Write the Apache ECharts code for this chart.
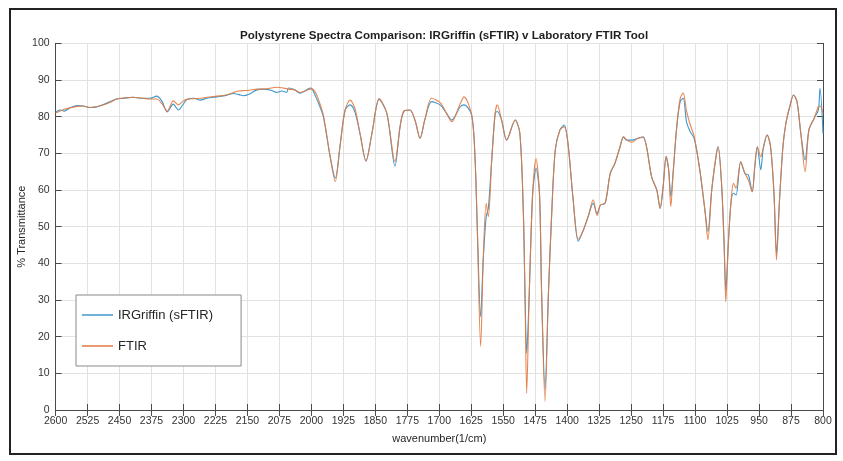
<!DOCTYPE html>
<html>
<head>
<meta charset="utf-8">
<script src="https://cdn.jsdelivr.net/npm/echarts@6/dist/echarts.min.js"></script>
<style>
html,body{margin:0;padding:0;background:#fff;}
#chart{width:843px;height:461px;}
</style>
</head>
<body>
<div id="chart"></div>
<script>
const titleText = 'Polystyrene Spectra Comparison: IRGriffin (sFTIR) v Laboratory FTIR Tool';
const seriesNames = ['IRGriffin (sFTIR)', 'FTIR'];
const xName = 'wavenumber(1/cm)';
const yName = '% Transmittance';

const wavenumbers = [2600,2590,2580,2566,2550,2535,2520,2505,2488,2470,2457,2440,2418,2400,2379,2363,2351,2338,2324,2312,2300,2292,2275,2261,2245,2222,2200,2183,2170,2160,2145,2128,2113,2095,2081,2070,2058,2054,2040,2027,2015,2003,1998,1990,1983,1972,1956,1944,1933,1921,1909,1898,1886,1872,1858,1841,1823,1804,1792,1783,1769,1757,1745,1734,1718,1698,1683,1671,1651,1642,1624,1616,1611,1603,1597,1590,1585,1577,1569,1564,1554,1542,1522,1511,1503,1499,1495,1489,1481,1473,1465,1460,1452,1444,1436,1428,1417,1407,1398,1386,1374,1362,1351,1339,1330,1322,1311,1299,1288,1276,1268,1260,1249,1234,1222,1214,1202,1190,1182,1175,1168,1162,1157,1151,1143,1135,1128,1120,1112,1102,1089,1077,1070,1061,1051,1046,1038,1032,1028,1022,1016,1010,1004,993,983,975,966,960,954,946,940,931,923,915,909,902,894,887,878,869,861,852,842,833,821,811,807,800];

const irgriffin = [81.2,81.8,81.5,82.4,83.0,82.9,82.5,82.6,83.3,84.2,84.8,85.0,85.3,85.0,85.0,85.6,84.3,81.3,83.4,81.8,83.5,84.7,85.0,84.5,85.0,85.4,85.8,86.3,86.0,85.7,86.2,87.3,87.5,87.2,86.6,87.0,86.6,87.8,87.4,86.4,87.0,87.8,87.5,85.5,83.6,80.0,69.1,63.2,71.8,81.8,83.2,81.3,75.4,67.9,75.4,84.7,80.9,66.5,77.3,81.4,81.8,79.0,74.1,79.1,84.1,83.2,80.9,79.1,82.7,83.2,80.4,68.2,50.0,25.4,40.9,52.7,55.0,68.2,80.9,81.4,79.1,73.6,79.1,75.4,54.5,31.9,15.5,31.9,59.0,65.9,59.0,31.9,5.5,32.0,54.5,70.9,76.4,77.7,72.5,57.3,46.0,49.1,52.7,56.4,53.5,55.9,56.4,64.5,67.3,71.8,74.4,73.6,73.6,74.1,74.5,71.8,63.6,60.0,55.0,60.9,69.1,65.5,58.2,65.5,77.3,84.1,85.0,78.5,76.0,74.0,65.5,54.5,48.6,60.0,69.1,71.8,61.8,45.5,32.7,45.5,56.4,59.1,58.6,67.7,64.5,64.1,59.5,66.4,71.8,65.5,71.4,75.0,71.8,59.1,42.7,57.3,71.8,78.2,82.7,85.9,84.1,75.4,68.2,76.4,79.5,81.8,87.7,75.4];

const ftir = [81.0,81.5,82.0,82.4,82.8,82.9,82.5,82.7,83.2,84.0,84.8,85.1,85.3,85.1,84.8,84.8,83.6,81.5,84.3,83.2,84.3,84.7,84.9,85.0,85.3,85.6,85.9,86.6,87.0,87.1,87.2,87.5,87.5,87.8,88.0,87.9,87.6,87.5,87.3,86.6,87.0,87.5,87.5,86.5,84.5,80.4,69.1,62.3,71.8,81.8,84.5,82.3,75.4,67.9,75.4,84.9,80.9,67.7,77.3,81.6,81.8,79.0,74.1,79.1,85.0,83.8,80.9,78.6,83.5,85.4,80.4,68.2,50.0,17.3,40.9,56.4,52.7,68.2,80.9,83.2,79.1,73.6,79.1,75.4,54.5,31.9,4.6,31.9,59.0,68.6,59.0,31.9,2.3,32.0,54.5,70.9,76.4,77.2,72.5,57.3,46.6,49.1,52.7,57.3,53.0,55.9,56.4,64.5,67.3,71.8,74.6,73.6,73.0,74.1,74.3,71.8,63.6,60.0,55.0,60.9,69.1,65.5,55.5,65.5,77.3,85.0,86.4,81.5,78.0,74.5,65.5,54.5,46.4,60.0,69.1,71.8,61.8,45.5,29.5,45.5,56.4,61.8,60.5,67.7,64.5,62.7,59.5,66.4,71.8,69.1,71.4,75.0,71.8,59.1,40.9,57.3,71.8,78.2,82.7,85.9,84.1,75.4,65.0,76.4,79.5,82.7,82.9,80.9];

const colors = ['#3f97cc', '#e2793f'];
const font = 'Liberation Sans';

const chart = echarts.init(document.getElementById('chart'), null, {renderer: 'canvas'});

const axisLineColor = '#4a4a4a';
const gridColor = '#e2e2e2';
const plain = v => String(v);

chart.setOption({
  animation: false,
  backgroundColor: '#ffffff',
  title: {
    text: titleText,
    left: 439, textAlign: 'center',
    top: 25,
    textStyle: {fontFamily: font, fontWeight: 'bold', fontSize: 11.6, color: '#1f1f1f'}
  },
  graphic: [{
    type: 'rect', silent: true, z: 100,
    shape: {x: 10, y: 9, width: 826, height: 445},
    style: {fill: 'none', stroke: '#222', lineWidth: 2}
  }],
  legend: {
    orient: 'vertical',
    left: 76, top: 295,
    padding: [12, 28, 12, 6],
    itemGap: 15,
    itemWidth: 31, itemHeight: 1.5,
    icon: 'rect',
    backgroundColor: '#ffffff',
    borderColor: '#8a8a8a', borderWidth: 1,
    textStyle: {fontFamily: font, fontSize: 13, lineHeight: 16, color: '#262626'},
    data: seriesNames
  },
  grid: {left: 55.6, right: 20, top: 43.3, bottom: 51, containLabel: false},
  xAxis: [{
    type: 'value', inverse: true, min: 800, max: 2600, interval: 75,
    position: 'bottom',
    name: xName, nameLocation: 'middle', nameGap: 23,
    nameTextStyle: {fontFamily: font, fontSize: 11, color: '#262626'},
    axisLine: {show: true, lineStyle: {color: axisLineColor, width: 1}},
    axisTick: {show: true, inside: true, length: 6, lineStyle: {color: axisLineColor}},
    axisLabel: {fontFamily: font, fontSize: 10.5, color: '#333', margin: 6, formatter: plain},
    splitLine: {show: true, lineStyle: {color: gridColor, width: 1}}
  }, {
    type: 'value', inverse: true, min: 800, max: 2600, interval: 75,
    position: 'top',
    axisLine: {show: true, lineStyle: {color: axisLineColor, width: 1}},
    axisTick: {show: true, inside: true, length: 6, lineStyle: {color: axisLineColor}},
    axisLabel: {show: false},
    splitLine: {show: false}
  }],
  yAxis: [{
    type: 'value', min: 0, max: 100, interval: 10,
    position: 'left',
    name: yName, nameLocation: 'middle', nameGap: 28, nameRotate: 90,
    nameMoveOverlap: false,
    nameTextStyle: {fontFamily: font, fontSize: 11, color: '#262626'},
    axisLine: {show: true, lineStyle: {color: axisLineColor, width: 1}},
    axisTick: {show: true, inside: true, length: 6, lineStyle: {color: axisLineColor}},
    axisLabel: {fontFamily: font, fontSize: 10.5, color: '#333', margin: 6, formatter: plain},
    splitLine: {show: true, lineStyle: {color: gridColor, width: 1}}
  }, {
    type: 'value', min: 0, max: 100, interval: 10,
    position: 'right',
    axisLine: {show: true, lineStyle: {color: axisLineColor, width: 1}},
    axisTick: {show: true, inside: true, length: 6, lineStyle: {color: axisLineColor}},
    axisLabel: {show: false},
    splitLine: {show: false}
  }],
  series: [{
    name: seriesNames[0], type: 'line',
    data: wavenumbers.map((w, i) => [w, irgriffin[i]]),
    showSymbol: false, smooth: 0.3,
    color: colors[0],
    lineStyle: {width: 1.1, color: colors[0]}
  }, {
    name: seriesNames[1], type: 'line',
    data: wavenumbers.map((w, i) => [w, ftir[i]]),
    showSymbol: false, smooth: 0.3,
    color: colors[1],
    lineStyle: {width: 1.1, color: colors[1], opacity: 0.9}
  }]
});
</script>
</body>
</html>
